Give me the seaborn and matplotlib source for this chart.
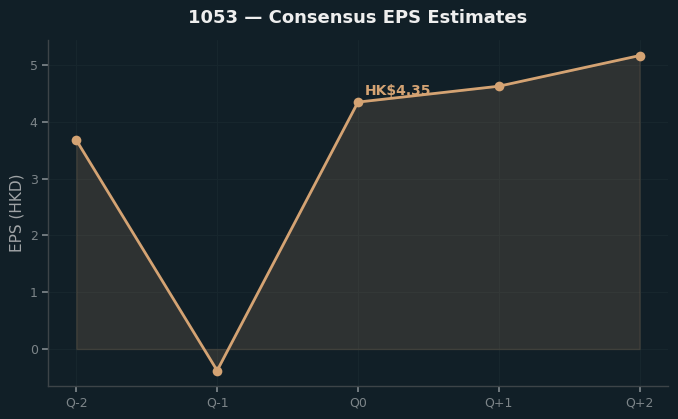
import numpy as np
import pandas as pd
import seaborn as sns
import matplotlib
matplotlib.use("Agg")
import matplotlib.pyplot as plt

quarters = ["Q-2", "Q-1", "Q0", "Q+1", "Q+2"]
eps = [3.68, -0.38, 4.35, 4.63, 5.17]
current_label = "HK$4.35"

bg = "#111f27"
line_c = "#d4a373"

sns.set_theme(style="dark")
plt.rcParams["font.family"] = ["DejaVu Sans"]

df = pd.DataFrame({"quarter": quarters, "eps": eps})
df["pos"] = np.arange(len(df))

fig, ax = plt.subplots(figsize=(6.78, 4.19), dpi=100)
fig.patch.set_facecolor(bg)
ax.set_facecolor(bg)

ax.fill_between(df["pos"], df["eps"], 0, color=line_c, alpha=0.15)
sns.lineplot(data=df, x="pos", y="eps", ax=ax, color=line_c, linewidth=2,
             marker="o", markersize=7, markeredgewidth=0)

i0 = quarters.index("Q0")
ax.annotate(current_label, (df["pos"][i0], df["eps"][i0]), xytext=(5, 5),
            textcoords="offset points", color=line_c, fontsize=10, fontweight="bold")

ax.set_xticks(df["pos"])
ax.set_xticklabels(quarters)
ax.set_xlabel("")
ax.set_ylabel("EPS (HKD)", color="#a0a4a6", fontsize=11)
ax.set_title("1053 — Consensus EPS Estimates", color="#eeeeee", fontsize=13,
             fontweight="bold", pad=12)

ax.tick_params(colors="#7d8589", labelsize=9, length=4, bottom=True, left=True)
for s in ["top", "right"]:
    ax.spines[s].set_visible(False)
for s in ["left", "bottom"]:
    ax.spines[s].set_color("#3d4448")
    ax.spines[s].set_linewidth(1)
ax.grid(True, color="#17262d", linewidth=0.8)

fig.subplots_adjust(left=0.071, right=0.985, top=0.905, bottom=0.078)
fig.savefig("out.png", facecolor=bg)
